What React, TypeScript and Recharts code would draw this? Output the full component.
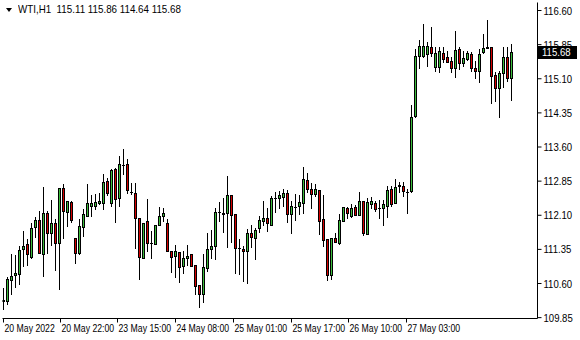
import React from "react";
import { ComposedChart, Bar, XAxis, YAxis } from "recharts";

const symbol = "WTI";
const timeframe = "H1";

const opens = [
  110.22, 110.22, 110.68, 110.79, 110.82, 111.35, 111.46, 111.19, 111.84, 112.0,
  111.25, 112.14, 111.71, 111.92, 111.5, 112.69, 112.18, 112.39, 111.61, 111.27,
  111.85, 112.09, 112.31, 112.31, 112.37, 112.38, 112.85, 112.37, 113.11, 112.47,
  113.2, 113.22, 112.61, 112.58, 112.05, 111.17, 111.97, 111.49, 111.47, 111.89,
  112.08, 111.92, 111.32, 111.2, 111.3, 110.99, 111.16, 111.24, 111.01, 110.56,
  110.37, 110.94, 111.35, 111.43, 112.18, 112.14, 112.14, 112.54, 112.12, 111.39,
  111.36, 111.32, 111.7, 111.6, 111.81, 111.97, 112.03, 111.89, 112.49, 112.48,
  112.5, 112.58, 112.13, 112.29, 112.3, 112.37, 112.87, 112.67, 112.57, 112.65,
  112.01, 111.57, 110.78, 111.59, 111.49, 111.97, 112.25, 112.09, 112.28, 112.11,
  112.42, 111.69, 112.34, 112.36, 112.25, 112.26, 112.31, 112.67, 112.36, 112.74,
  112.75, 112.61, 112.63, 114.28, 115.61, 115.61, 115.64, 115.79, 115.36, 115.35,
  115.67, 115.57, 115.48, 115.33, 115.76, 115.45, 115.53, 115.65, 115.34, 115.26,
  115.68, 115.79, 115.79, 115.19, 114.89, 115.22, 115.57, 115.11,
];
const highs = [
  110.51, 110.75, 111.25, 111.22, 111.42, 111.75, 111.57, 111.92, 112.06, 112.19,
  112.72, 112.19, 112.43, 112.01, 112.71, 112.79, 112.42, 112.42, 111.61, 112.02,
  112.23, 112.78, 112.54, 112.56, 112.59, 113.0, 112.92, 113.11, 113.14, 113.41,
  113.55, 113.33, 112.81, 112.81, 112.05, 111.94, 112.45, 111.75, 111.89, 112.28,
  112.26, 112.01, 111.32, 111.44, 111.3, 111.31, 111.45, 111.24, 111.01, 110.56,
  111.25, 111.7, 111.77, 112.26, 112.39, 112.47, 112.96, 112.54, 112.12, 111.57,
  111.42, 111.8, 111.89, 111.83, 112.08, 112.41, 112.26, 112.52, 112.61, 112.63,
  112.67, 112.65, 112.41, 112.57, 112.54, 113.16, 113.02, 112.8, 112.78, 112.65,
  112.55, 111.57, 111.61, 111.7, 112.12, 112.29, 112.29, 112.34, 112.33, 112.61,
  112.42, 112.48, 112.5, 112.41, 112.44, 112.44, 112.74, 112.75, 112.89, 112.83,
  112.83, 112.68, 114.52, 115.75, 115.95, 116.31, 115.9, 116.23, 115.79, 115.79,
  115.79, 115.72, 115.57, 116.16, 115.79, 115.72, 115.72, 115.68, 115.5, 115.75,
  116.09, 116.39, 115.79, 115.24, 115.26, 115.79, 115.79, 115.86,
];
const lows = [
  110.05, 110.16, 110.36, 110.52, 110.58, 110.99, 111.01, 111.17, 111.63, 111.27,
  110.76, 111.27, 111.44, 110.89, 110.47, 111.59, 111.86, 111.95, 111.05, 111.25,
  111.64, 112.09, 112.08, 112.23, 112.34, 112.23, 112.54, 112.3, 111.95, 112.3,
  113.0, 112.59, 112.57, 111.39, 110.69, 111.17, 111.31, 111.16, 111.47, 111.88,
  111.97, 111.31, 110.85, 110.74, 110.64, 110.83, 111.01, 110.99, 110.36, 110.08,
  110.2, 110.88, 111.17, 111.14, 111.98, 111.73, 111.4, 111.51, 110.83, 110.8,
  110.65, 110.61, 111.4, 111.14, 111.74, 111.89, 111.75, 111.89, 112.17, 112.26,
  112.3, 111.95, 111.71, 112.0, 112.13, 112.15, 112.61, 112.26, 112.52, 111.69,
  111.42, 110.67, 110.69, 111.51, 111.47, 111.97, 112.04, 112.06, 112.1, 112.11,
  111.66, 111.69, 112.26, 112.19, 112.04, 111.89, 112.06, 112.3, 112.36, 112.61,
  112.52, 112.15, 112.61, 114.25, 115.34, 115.57, 115.39, 115.61, 115.26, 115.24,
  115.46, 115.46, 115.24, 115.13, 115.31, 115.39, 115.51, 115.28, 115.12, 115.02,
  115.66, 115.77, 114.56, 114.61, 114.27, 114.91, 115.06, 114.64,
];
const closes = [
  110.23, 110.7, 110.77, 110.83, 111.33, 111.42, 111.24, 111.81, 112.0, 111.27,
  112.14, 111.71, 111.92, 111.5, 112.71, 112.2, 112.42, 111.99, 111.27, 111.87,
  112.12, 112.36, 112.36, 112.39, 112.41, 112.83, 112.59, 113.09, 112.45, 113.22,
  113.2, 112.65, 112.61, 112.04, 111.18, 111.94, 111.5, 111.49, 111.89, 112.09,
  112.14, 111.31, 111.18, 111.31, 110.96, 111.17, 111.21, 110.99, 110.55, 110.37,
  110.97, 111.35, 111.43, 112.17, 112.18, 112.12, 112.54, 112.11, 111.38, 111.37,
  111.32, 111.7, 111.62, 111.77, 111.99, 112.05, 111.92, 112.47, 112.49, 112.54,
  112.59, 112.13, 112.3, 112.29, 112.39, 112.89, 112.67, 112.57, 112.67, 111.97,
  111.56, 110.78, 111.61, 111.51, 111.99, 112.29, 112.14, 112.25, 112.11, 112.41,
  111.7, 112.39, 112.41, 112.23, 112.25, 112.34, 112.65, 112.34, 112.72, 112.76,
  112.64, 112.61, 114.26, 115.61, 115.81, 115.83, 115.83, 115.66, 115.67, 115.72,
  115.53, 115.46, 115.33, 115.74, 115.45, 115.56, 115.67, 115.33, 115.26, 115.65,
  115.77, 115.77, 115.15, 114.89, 115.23, 115.57, 115.11, 115.68,
];

const priceTicks = [109.85, 110.6, 111.35, 112.1, 112.85, 113.6, 114.35, 115.1, 115.85, 116.6];
const timeTickPos = [0, 14.25, 28.5, 43, 57.5, 72, 86.25, 100.75];
const timeTickLabels = [
  "20 May 2022",
  "20 May 22:00",
  "23 May 15:00",
  "24 May 08:00",
  "25 May 01:00",
  "25 May 17:00",
  "26 May 10:00",
  "27 May 03:00",
];

const FONT = "'Liberation Sans', Arial, sans-serif";
const UP = "#3cbc3c";
const DOWN = "#d40000";

const data = opens.map((o, i) => ({
  i,
  open: o,
  high: highs[i],
  low: lows[i],
  close: closes[i],
  range: [lows[i], highs[i]],
}));

const last = data[data.length - 1];
const lastClose = last.close;

const Candle = (props: any) => {
  const { x, y, width, height, payload } = props;
  if (payload == null || height == null) return null;
  const { open, close, high, low } = payload;
  const span = high - low;
  const ratio = span > 0 ? height / span : 0;
  const yOf = (v: number) => y + (high - v) * ratio;
  const cx = Math.floor(x + width / 2) + 0.5;
  const yH = Math.round(yOf(high));
  const yL = Math.round(yOf(low));
  const yO = Math.round(yOf(open));
  const yC = Math.round(yOf(close));
  const top = Math.min(yO, yC);
  const bot = Math.max(yO, yC);
  const fill = close >= open ? UP : DOWN;
  return (
    <g>
      <line x1={cx} x2={cx} y1={yH} y2={yL + 1} stroke="#000" strokeWidth={1} shapeRendering="crispEdges" />
      {bot - top < 1 ? (
        <line x1={cx - 1.5} x2={cx + 1.5} y1={top + 0.5} y2={top + 0.5} stroke="#000" strokeWidth={1} />
      ) : (
        <rect x={cx - 1} y={top + 0.5} width={2} height={bot - top} fill={fill} stroke="#000" strokeWidth={1} />
      )}
    </g>
  );
};

const fmt = (v: number) => v.toFixed(2);

const NarrowText = ({ x, y, sx, fill, children }: any) => (
  <text
    transform={`translate(${x},${y}) scale(${sx},1)`}
    x={0}
    y={0}
    fill={fill}
    fontSize={11}
    fontFamily={FONT}
  >
    {children}
  </text>
);

const PriceTick = (props: any) => {
  const { x, y, payload } = props;
  const v = payload.value as number;
  if (v === lastClose) {
    return (
      <g>
        <rect x={x - 5.5} y={Math.round(y) - 6} width={39} height={13} fill="#000" />
        <NarrowText x={x - 1.5} y={y + 4} sx={0.87} fill="#fff">
          {fmt(v)}
        </NarrowText>
      </g>
    );
  }
  return (
    <NarrowText x={x} y={y + 4} sx={0.87} fill="#000">
      {fmt(v)}
    </NarrowText>
  );
};

const TimeTick = (props: any) => {
  const { x, y, payload, index } = props;
  return (
    <NarrowText x={x + 1} y={y + 7.5} sx={0.79} fill="#000">
      {timeTickLabels[index] ?? String(payload.value)}
    </NarrowText>
  );
};

export default function App() {
  const header = `${symbol},${timeframe}  ${fmt(last.open)} ${fmt(last.high)} ${fmt(last.low)} ${fmt(last.close)}`;
  return (
    <div style={{ position: "absolute", left: 0, top: 0, width: 580, height: 340, background: "#fff" }}>
      <ComposedChart
        width={580}
        height={340}
        data={data}
        margin={{ top: 2.5, right: 0, left: 2.5, bottom: 0 }}
      >
        <XAxis
          xAxisId="top"
          orientation="top"
          dataKey="i"
          type="number"
          domain={[-0.25, 133.5]}
          allowDataOverflow
          height={0}
          tick={false}
          tickLine={false}
          axisLine={{ stroke: "#000" }}
        />
        <XAxis
          xAxisId="main"
          dataKey="i"
          type="number"
          domain={[-0.25, 133.5]}
          allowDataOverflow
          ticks={timeTickPos}
          interval={0}
          height={21.5}
          tickSize={4}
          axisLine={{ stroke: "#000" }}
          tickLine={{ stroke: "#000" }}
          tick={<TimeTick />}
        />
        <YAxis
          yAxisId="left"
          orientation="left"
          type="number"
          domain={[109.831, 116.776]}
          allowDataOverflow
          width={0}
          tick={false}
          tickLine={false}
          axisLine={{ stroke: "#000" }}
        />
        <YAxis
          yAxisId="main"
          orientation="right"
          type="number"
          domain={[109.831, 116.776]}
          allowDataOverflow
          ticks={[...priceTicks, lastClose]}
          interval={0}
          width={42.5}
          tickSize={4}
          axisLine={{ stroke: "#000" }}
          tickLine={{ stroke: "#000" }}
          tick={<PriceTick />}
        />
        <Bar
          xAxisId="main"
          yAxisId="main"
          dataKey="range"
          barSize={3}
          shape={<Candle />}
          isAnimationActive={false}
        />
      </ComposedChart>
      <div
        style={{
          position: "absolute",
          left: 4,
          top: 3,
          display: "flex",
          alignItems: "center",
          fontFamily: FONT,
          fontSize: 11,
          color: "#000",
          whiteSpace: "pre",
          lineHeight: "13px",
        }}
      >
        <svg width={12} height={13}>
          <polygon points="2,5 8,5 5,9" fill="#000" />
        </svg>
        <span style={{ marginLeft: 2, display: "inline-block", transform: "scaleX(0.89)", transformOrigin: "left center" }}>
          {header}
        </span>
      </div>
    </div>
  );
}
